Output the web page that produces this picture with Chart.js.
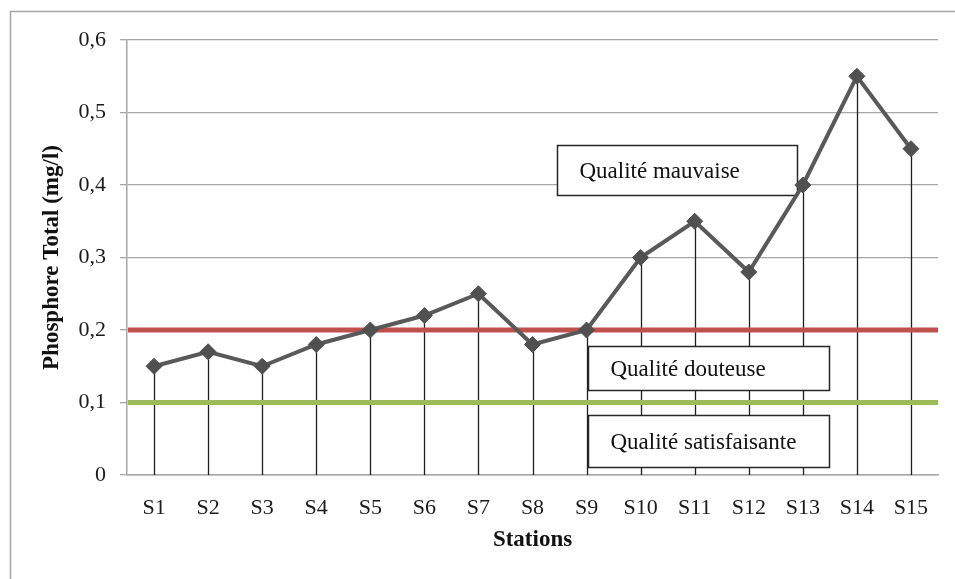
<!DOCTYPE html>
<html>
<head>
<meta charset="utf-8">
<script src="https://cdn.jsdelivr.net/npm/chart.js@4/dist/chart.umd.min.js"></script>
<style>
  html, body { margin: 0; padding: 0; background: #fff; }
  #wrap { width: 955px; height: 579px; position: relative; }
</style>
</head>
<body>
<div id="wrap"><canvas id="phosChart" width="955" height="579"></canvas></div>
<script>
// Data
const stations = ['S1', 'S2', 'S3', 'S4', 'S5', 'S6', 'S7', 'S8', 'S9', 'S10', 'S11', 'S12', 'S13', 'S14', 'S15'];
const phosphore = [0.15, 0.17, 0.15, 0.18, 0.20, 0.22, 0.25, 0.18, 0.20, 0.30, 0.35, 0.28, 0.40, 0.55, 0.45];
const thresholds = [0.2, 0.1];
const zoneNames = ['Qualité mauvaise', 'Qualité douteuse', 'Qualité satisfaisante'];

// layout of the label boxes, in scale units (category index / mg/l)
const zoneBoxes = [
    { x0: 7.45, x1: 11.89, y0: 0.455, y1: 0.386 },
    { x0: 8.03, x1: 12.48, y0: 0.178, y1: 0.117 },
    { x0: 8.03, x1: 12.48, y0: 0.083, y1: 0.011 }
];
const thresholdColors = ['#c0504d', '#9bbb59'];
const serif = '"Liberation Serif", "Times New Roman", serif';

// frame, drop lines, threshold lines and label boxes
const decorations = {
    id: 'decorations',
    beforeDraw(chart) {
        const ctx = chart.ctx;
        ctx.save();
        ctx.strokeStyle = '#a6a6a6';
        ctx.lineWidth = 1.5;
        ctx.strokeRect(10.5, 11.5, 1200, 1200);
        ctx.restore();
    },
    beforeDatasetsDraw(chart) {
        const ctx = chart.ctx;
        const area = chart.chartArea;
        const xs = chart.scales.x;
        const ys = chart.scales.y;
        const pts = chart.getDatasetMeta(0).data;
        ctx.save();

        // drop lines
        ctx.strokeStyle = '#1f1f1f';
        ctx.lineWidth = 1.3;
        pts.forEach(p => {
            ctx.beginPath();
            ctx.moveTo(Math.round(p.x) + 0.5, p.y);
            ctx.lineTo(Math.round(p.x) + 0.5, area.bottom);
            ctx.stroke();
        });

        // quality thresholds
        thresholds.forEach((t, i) => {
            const y = ys.getPixelForValue(t);
            ctx.strokeStyle = thresholdColors[i];
            ctx.lineWidth = 5;
            ctx.beginPath();
            ctx.moveTo(area.left + 1, y);
            ctx.lineTo(area.right, y);
            ctx.stroke();
        });

        // label boxes
        ctx.font = '23px ' + serif;
        ctx.textBaseline = 'middle';
        ctx.textAlign = 'left';
        zoneBoxes.forEach((b, i) => {
            const left = Math.round(xs.getPixelForValue(b.x0)) + 0.5;
            const right = Math.round(xs.getPixelForValue(b.x1)) + 0.5;
            const top = Math.round(ys.getPixelForValue(b.y0)) + 0.5;
            const bottom = Math.round(ys.getPixelForValue(b.y1)) + 0.5;
            ctx.fillStyle = '#ffffff';
            ctx.fillRect(left, top, right - left, bottom - top);
            ctx.strokeStyle = '#262626';
            ctx.lineWidth = 1.5;
            ctx.strokeRect(left, top, right - left, bottom - top);
            ctx.fillStyle = '#111';
            ctx.fillText(zoneNames[i], left + 22, (top + bottom) / 2 + 1);
        });

        ctx.restore();
    }
};

new Chart(document.getElementById('phosChart').getContext('2d'), {
    type: 'line',
    data: {
        labels: stations,
        datasets: [{
            data: phosphore,
            borderColor: '#595959',
            borderWidth: 4,
            pointStyle: 'rectRot',
            pointRadius: 8,
            pointHoverRadius: 8,
            pointBackgroundColor: '#505050',
            pointBorderColor: '#505050',
            pointBorderWidth: 1,
            tension: 0,
            fill: false
        }]
    },
    options: {
        responsive: false,
        animation: false,
        layout: { padding: { left: 0, top: 40, right: 17, bottom: 0 } },
        plugins: {
            legend: { display: false },
            tooltip: { enabled: false }
        },
        scales: {
            x: {
                offset: true,
                grid: { display: false },
                border: { display: true, color: '#a6a6a6', width: 1.5 },
                ticks: {
                    color: '#1a1a1a',
                    padding: 12,
                    maxRotation: 0,
                    font: { family: serif, size: 22 }
                },
                title: {
                    display: true,
                    text: 'Stations',
                    color: '#111',
                    padding: { top: 0, bottom: 25 },
                    font: { family: serif, size: 23, weight: 'bold' }
                },
                afterFit: scale => { scale.height = 104; }
            },
            y: {
                min: 0,
                max: 0.6,
                ticks: {
                    stepSize: 0.1,
                    color: '#1a1a1a',
                    padding: 14,
                    font: { family: serif, size: 22 },
                    callback: v => v === 0 ? '0' : v.toFixed(1).replace('.', ',')
                },
                grid: { color: '#a6a6a6', lineWidth: 1.3, tickLength: 7 },
                border: { display: true, color: '#a6a6a6', width: 1.5 },
                title: {
                    display: true,
                    text: 'Phosphore Total (mg/l)',
                    color: '#111',
                    padding: { top: 38, bottom: 0 },
                    font: { family: serif, size: 23, weight: 'bold' }
                },
                afterFit: scale => { scale.width = 127; }
            }
        }
    },
    plugins: [decorations]
});
</script>
</body>
</html>
